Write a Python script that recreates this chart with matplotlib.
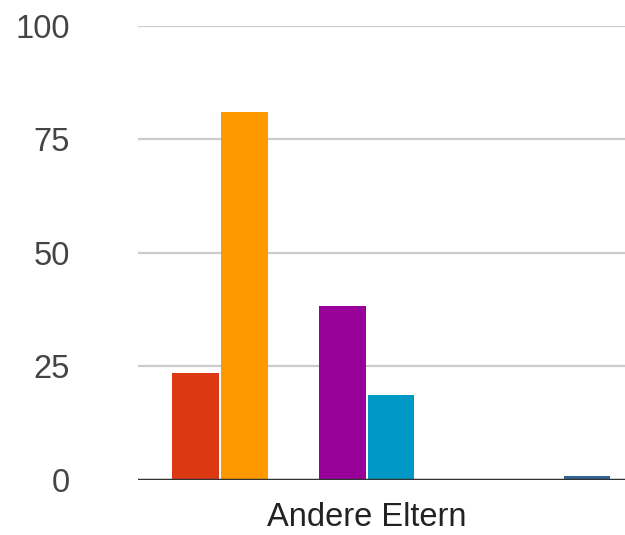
import matplotlib
matplotlib.use("Agg")
import matplotlib.pyplot as plt

category = "Andere Eltern"
values = [0, 23.5, 81.0, 0, 38.2, 18.7, 0, 0, 0, 0.9]
colors = ["#3366cc", "#dc3912", "#ff9900", "#109618", "#990099",
          "#0099c6", "#dd4477", "#66aa00", "#b82e2e", "#316395"]
y_ticks = [0, 25, 50, 75, 100]

plt.rcParams["font.family"] = ["Liberation Sans", "DejaVu Sans"]

fig = plt.figure(figsize=(6.25, 5.35), dpi=100)
ax = fig.add_axes([138 / 625, 55 / 535, 1 - 138 / 625, (509.5 - 55) / 535])

positions = list(range(len(values)))
ax.bar(positions, values, width=0.95, color=colors, zorder=3)

ax.set_ylim(0, 100)
ax.set_xlim(-0.178, 9.78)
ax.set_yticks(y_ticks)
ax.set_yticklabels([str(t) for t in y_ticks], fontsize=23.5, color="#444444")
ax.tick_params(axis="y", length=0, pad=49)
ax.set_xticks([4.5])
ax.set_xticklabels([category], fontsize=23.5, color="#222222")
ax.tick_params(axis="x", length=0, pad=16)

for t in y_ticks[1:]:
    ax.axhline(t, color="#cccccc", linewidth=1.6, zorder=1)
ax.axhline(0, color="#333333", linewidth=2.5, zorder=4)

for s in ax.spines.values():
    s.set_visible(False)

fig.savefig("out.png", dpi=100)
